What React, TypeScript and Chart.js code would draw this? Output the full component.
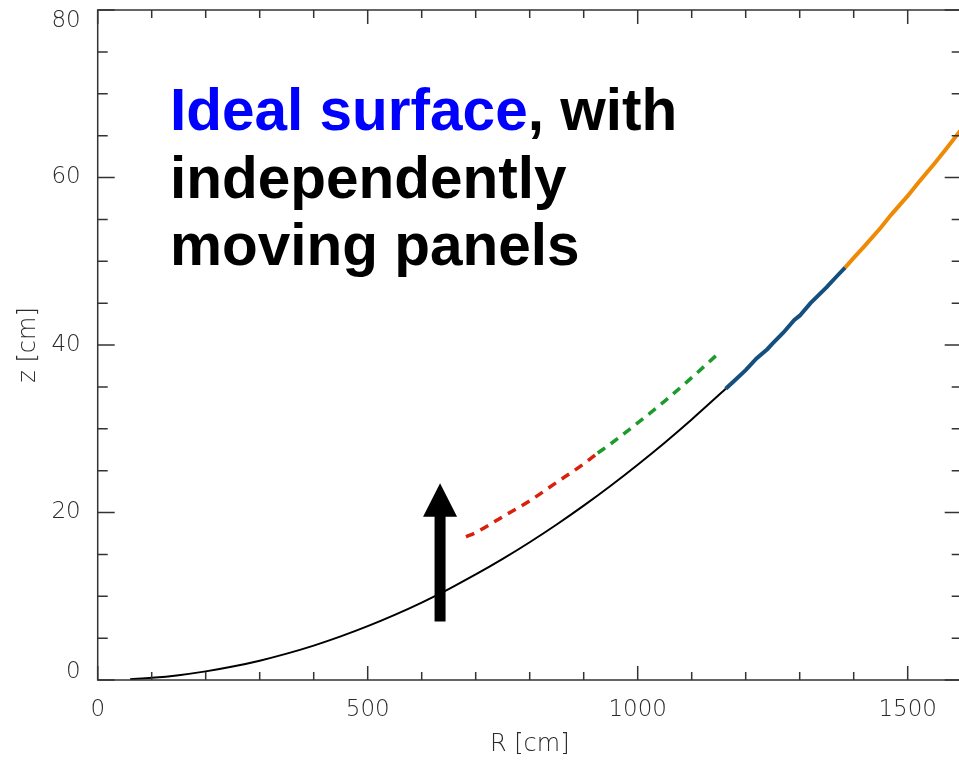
import { useEffect, useRef } from "react";
import { Chart, registerables } from "chart.js";
Chart.register(...registerables);

// Ideal paraboloid surface profile (black)
const idealR = [60, 100, 150, 200, 250, 300, 350, 400, 450, 500, 550, 600, 650, 700, 750, 800, 850, 900, 950, 1000, 1050, 1100, 1163];
const idealZ = [0.09, 0.26, 0.58, 1.03, 1.61, 2.31, 3.15, 4.11, 5.21, 6.43, 7.78, 9.25, 10.86, 12.6, 14.46, 16.45, 18.57, 20.82, 23.2, 25.71, 28.34, 31.11, 34.77];

// Panel ring (dark blue)
const blueR = [1163, 1180, 1200, 1220, 1240, 1250, 1270, 1290, 1300, 1320, 1350, 1370, 1384];
const blueZ = [34.77, 35.8, 37.0, 38.4, 39.5, 40.2, 41.5, 43.0, 43.5, 45.0, 46.9, 48.3, 49.24];

// Panel ring (orange)
const orangeR = [1384, 1400, 1420, 1450, 1470, 1500, 1520, 1550, 1570, 1600];
const orangeZ = [49.24, 50.4, 51.8, 54.0, 55.6, 57.8, 59.4, 61.7, 63.3, 65.8];

// Raised panels (dashed red, then dashed green)
const redR = [682, 700, 750, 800, 850, 900, 926];
const redZ = [17.1, 17.6, 19.5, 21.4, 23.6, 25.8, 27.1];
const greenR = [926, 950, 1000, 1050, 1100, 1153];
const greenZ = [27.1, 28.2, 30.7, 33.3, 36.1, 39.2];

const xTickValues = [0, 500, 1000, 1500];
const yTickValues = [0, 20, 40, 60, 80];
const xMinorStep = 100;
const yMinorStep = 5;

// Arrow annotation (data coordinates)
const ARROW_R = 634;
const ARROW_Z_TAIL = 7.0;
const ARROW_Z_HEAD_BASE = 19.5;
const ARROW_Z_TIP = 23.5;

const toXY = (xs: number[], ys: number[]) => xs.map((x, i) => ({ x, y: ys[i] }));

const CANVAS_W = 975;
const CANVAS_H = 760;
const AXIS_COLOR = "#333";
const LABEL_COLOR = "#2a2a2a";
const FONT_FAMILY = "DejaVu Sans";

const framePlugin = {
  id: "idlFrame",
  afterDraw(chart: any) {
    const ctx = chart.ctx as CanvasRenderingContext2D;
    const { left, right, top, bottom } = chart.chartArea;
    const xs = chart.scales.x;
    const ys = chart.scales.y;
    ctx.save();
    ctx.strokeStyle = AXIS_COLOR;
    ctx.lineWidth = 1.5;
    ctx.beginPath();
    ctx.rect(left, top, right - left, bottom - top);
    ctx.stroke();
    // x ticks (bottom and top, inward)
    for (let v = xs.min; v <= xs.max + 1e-6; v += xMinorStep) {
      const px = xs.getPixelForValue(v);
      const major = xTickValues.includes(v);
      const len = major ? 14 : 8;
      ctx.beginPath();
      ctx.moveTo(px, bottom);
      ctx.lineTo(px, bottom - len);
      ctx.moveTo(px, top);
      ctx.lineTo(px, top + len);
      ctx.stroke();
    }
    // y ticks (left and right, inward)
    for (let v = ys.min; v <= ys.max + 1e-6; v += yMinorStep) {
      const py = ys.getPixelForValue(v);
      const major = yTickValues.includes(v);
      const len = major ? 17 : 10;
      ctx.beginPath();
      ctx.moveTo(left, py);
      ctx.lineTo(left + len, py);
      ctx.moveTo(right, py);
      ctx.lineTo(right - len, py);
      ctx.stroke();
    }
    // arrow
    const ax = xs.getPixelForValue(ARROW_R);
    const yTail = ys.getPixelForValue(ARROW_Z_TAIL);
    const yBase = ys.getPixelForValue(ARROW_Z_HEAD_BASE);
    const yTip = ys.getPixelForValue(ARROW_Z_TIP);
    const shaft = 5.5;
    const head = 17;
    ctx.fillStyle = "#000";
    ctx.beginPath();
    ctx.moveTo(ax - shaft, yTail);
    ctx.lineTo(ax - shaft, yBase);
    ctx.lineTo(ax - head, yBase);
    ctx.lineTo(ax, yTip);
    ctx.lineTo(ax + head, yBase);
    ctx.lineTo(ax + shaft, yBase);
    ctx.lineTo(ax + shaft, yTail);
    ctx.closePath();
    ctx.fill();
    ctx.restore();
  },
};

export default function App() {
  const ref = useRef<HTMLCanvasElement | null>(null);
  useEffect(() => {
    if (!ref.current) return;
    const tickFont = { family: FONT_FAMILY, size: 23, weight: 300 as any };
    const yMin = yTickValues[0];
    const yMax = yTickValues[yTickValues.length - 1];
    const chart = new Chart(ref.current, {
      type: "line",
      data: {
        datasets: [
          {
            data: toXY(idealR, idealZ),
            borderColor: "#000",
            borderWidth: 2,
            pointRadius: 0,
            cubicInterpolationMode: "monotone",
          },
          {
            data: toXY(blueR, blueZ),
            borderColor: "#154f7e",
            borderWidth: 4,
            pointRadius: 0,
          },
          {
            data: toXY(orangeR, orangeZ),
            borderColor: "#ef8a07",
            borderWidth: 4,
            pointRadius: 0,
          },
          {
            data: toXY(redR, redZ),
            borderColor: "#d8200a",
            borderWidth: 3.5,
            borderDash: [9, 7],
            pointRadius: 0,
            cubicInterpolationMode: "monotone",
          },
          {
            data: toXY(greenR, greenZ),
            borderColor: "#1c9a2c",
            borderWidth: 3.5,
            borderDash: [9, 7],
            pointRadius: 0,
            cubicInterpolationMode: "monotone",
          },
        ] as any,
      },
      options: {
        animation: false,
        responsive: false,
        devicePixelRatio: 1,
        layout: { padding: { top: 10, right: CANVAS_W - 961.7, left: 0, bottom: 0 } },
        plugins: { legend: { display: false }, tooltip: { enabled: false } },
        scales: {
          x: {
            type: "linear",
            min: 0,
            max: 1600,
            grid: { display: false },
            border: { display: false },
            ticks: {
              font: tickFont,
              color: LABEL_COLOR,
              padding: 8,
              maxRotation: 0,
              autoSkip: false,
              callback: (v: any) => String(v),
            },
            title: {
              display: true,
              text: "R [cm]",
              font: { family: FONT_FAMILY, size: 24, weight: 300 as any },
              color: LABEL_COLOR,
              padding: { top: 0, bottom: 1 },
            },
            afterBuildTicks: (s: any) => {
              s.ticks = xTickValues.map((v) => ({ value: v }));
            },
            afterFit: (s: any) => {
              s.height = 80;
              s.paddingLeft = 0;
              s.paddingRight = 0;
            },
          },
          y: {
            type: "linear",
            min: yMin,
            max: yMax,
            grid: { display: false },
            border: { display: false },
            ticks: {
              font: (c: any) => {
                const v = c.tick ? c.tick.value : null;
                const lh = v === yMax ? "22px" : v === yMin ? "16px" : "27px";
                return { family: FONT_FAMILY, size: 23, weight: 300, lineHeight: lh } as any;
              },
              color: LABEL_COLOR,
              padding: 9,
              autoSkip: false,
              callback: (v: any) => (v === yMax ? ["", String(v)] : v === yMin ? [String(v), ""] : String(v)),
            },
            title: {
              display: true,
              text: "z [cm]",
              font: { family: FONT_FAMILY, size: 24, weight: 300 as any },
              color: LABEL_COLOR,
              padding: { top: 14, bottom: 0 },
            },
            afterBuildTicks: (s: any) => {
              s.ticks = yTickValues.map((v) => ({ value: v }));
            },
            afterFit: (s: any) => {
              s.width = 97.7;
              s.paddingTop = 0;
              s.paddingBottom = 0;
            },
          },
        },
      },
      plugins: [framePlugin],
    });
    return () => chart.destroy();
  }, []);

  return (
    <div
      style={{
        position: "fixed",
        left: 0,
        top: 0,
        width: 959,
        height: 760,
        overflow: "hidden",
        background: "#fff",
      }}
    >
      <canvas
        ref={ref}
        width={CANVAS_W}
        height={CANVAS_H}
        style={{ width: CANVAS_W, height: CANVAS_H, display: "block" }}
      />
      <div
        style={{
          position: "absolute",
          left: 170,
          top: 76,
          fontFamily: '"Liberation Sans", Arial, sans-serif',
          fontWeight: "bold",
          fontSize: 58.5,
          lineHeight: "67.5px",
          color: "#000",
          whiteSpace: "nowrap",
        }}
      >
        <span style={{ color: "#0000ff" }}>Ideal surface</span>, with
        <br />
        independently
        <br />
        moving panels
      </div>
    </div>
  );
}
